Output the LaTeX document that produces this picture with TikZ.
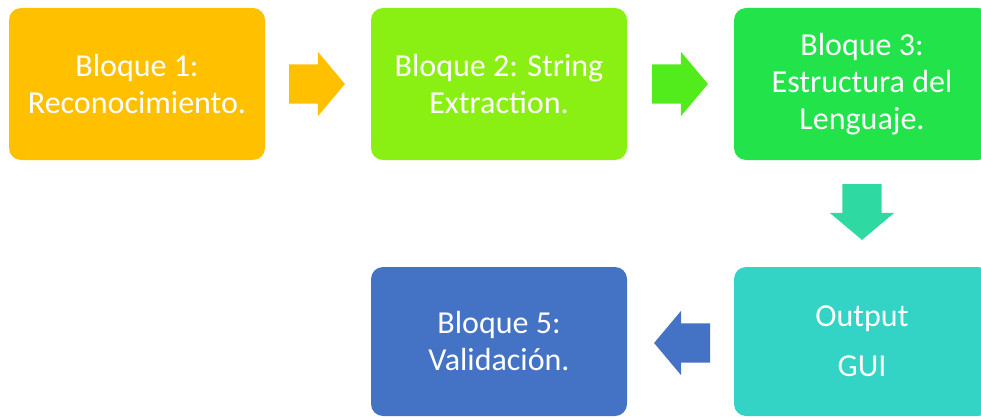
\documentclass[tikz,border=0pt]{standalone}
\usepackage{fontspec}
\setmainfont{Carlito}
\usetikzlibrary{shapes.arrows}

\begin{document}
\begin{tikzpicture}[x=1pt, y=-1pt,
    bloque/.style={rectangle, rounded corners=12pt, minimum width=256pt, minimum height=152pt,
        inner sep=0pt, text=white, align=center, font=\fontsize{32}{37}\selectfont},
    flecha/.style={single arrow, minimum height=54pt, minimum width=64pt, inner sep=19.5pt,
        single arrow head extend=12.5pt, single arrow tip angle=100, outer sep=0pt, anchor=tail}]
    % Define consistent colors
    \definecolor{bloqueuno}{RGB}{255,192,0}
    \definecolor{bloquedos}{RGB}{138,240,20}
    \definecolor{bloquetres}{RGB}{34,227,74}
    \definecolor{bloquecuatro}{RGB}{51,211,197}
    \definecolor{bloquecinco}{RGB}{68,114,196}
    \definecolor{flechados}{RGB}{82,235,27}
    \definecolor{flechatres}{RGB}{47,217,162}

    % Frame
    \clip (0,0) rectangle (981,417);

    % Blocks
    \node[bloque, fill=bloqueuno] (bloque1) at (137,84) {Bloque 1:\\Reconocimiento.};
    \node[bloque, fill=bloquedos] (bloque2) at (499,84) {Bloque 2: String\\Extraction.};
    \node[bloque, fill=bloquetres] (bloque3) at (862,84) {Bloque 3:\\Estructura del\\Lenguaje.};
    \node[bloque, fill=bloquecuatro, minimum height=149pt] (bloque4) at (862,341.5) {Output\\[13pt]GUI};
    \node[bloque, fill=bloquecinco, minimum height=149pt] (bloque5) at (499,341.5) {Bloque 5:\\Validación.};

    % Arrows between blocks (placed by their tails)
    \node[flecha, fill=bloqueuno] (flecha1) at (289,84) {};
    \node[flecha, fill=flechados] (flecha2) at (652,84) {};
    \node[flecha, fill=flechatres, shape border rotate=270] (flecha3) at (862,184) {};
    \node[flecha, fill=bloquecinco, shape border rotate=180] (flecha4) at (710,343) {};
\end{tikzpicture}
\end{document}
